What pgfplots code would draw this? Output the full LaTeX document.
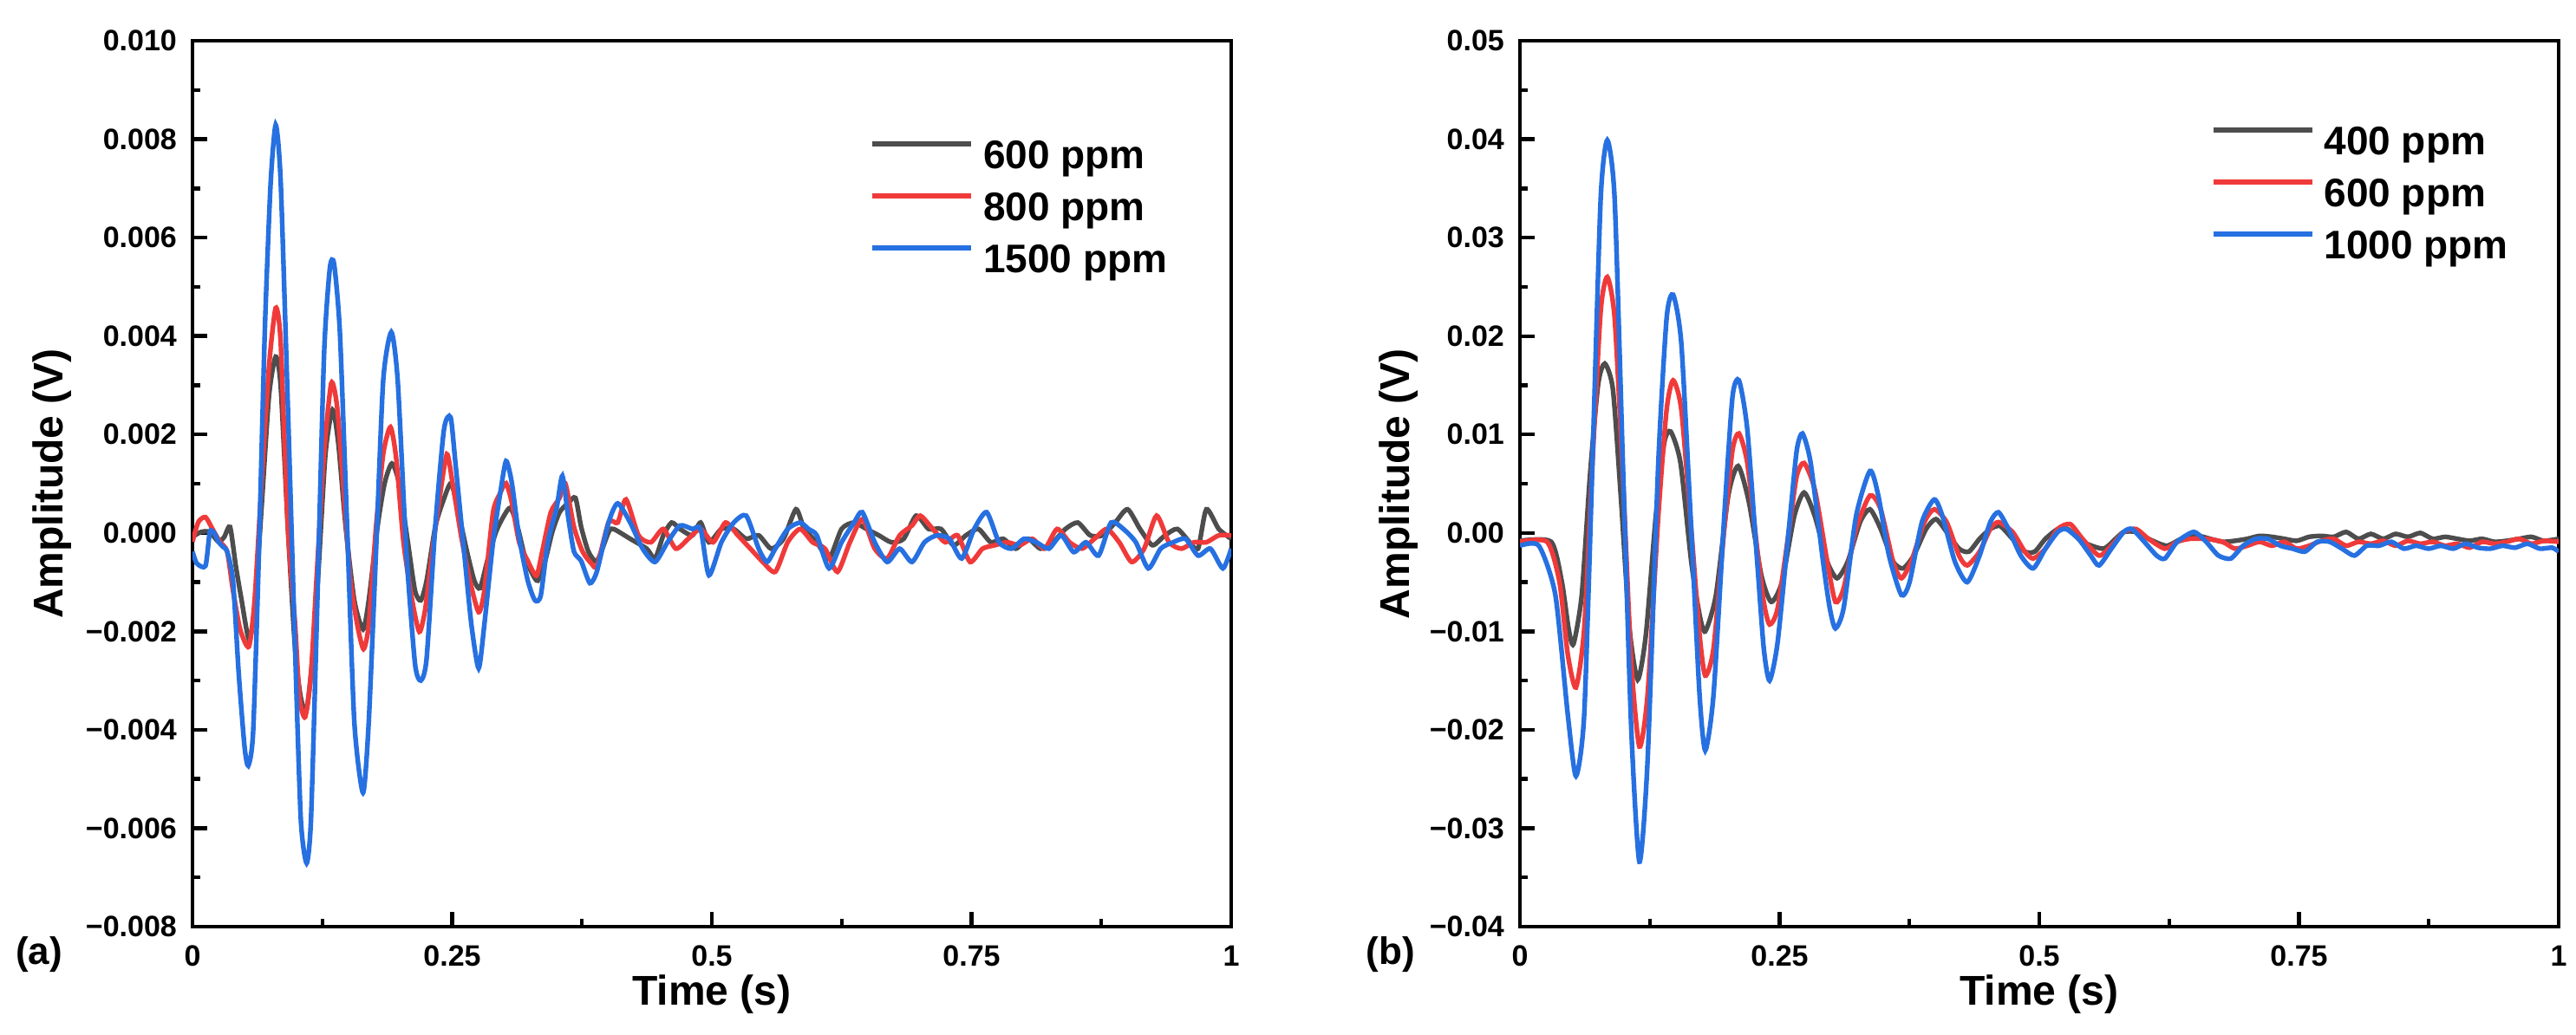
\documentclass[border=0pt]{standalone}
\usepackage{pgfplots}
\pgfplotsset{compat=1.18}
\usepackage{fontspec}
\setmainfont{Liberation Sans}

\definecolor{sgray}{RGB}{77,77,77}
\definecolor{sred}{RGB}{240,58,58}
\definecolor{sblue}{RGB}{38,112,225}

\pgfplotsset{
  sig/.style={
    scale only axis, width=299.5pt, height=255.5pt,
    xmin=0, xmax=1,
    xtick={0,0.25,0.5,0.75,1}, xticklabels={0,0.25,0.5,0.75,1},
    minor x tick num=1, minor y tick num=1,
    tick align=inside, xtick pos=left, ytick pos=left,
    major tick length=4.2pt, minor tick length=2.3pt,
    axis line style={line width=1.1pt},
    every tick/.append style={black, line width=1.1pt},
    tick label style={font=\bfseries\fontsize{8.5}{10}\selectfont},
    xticklabel style={yshift=-2pt}, yticklabel style={xshift=-1pt},
    scaled ticks=false,
    xlabel={Time (s)}, ylabel={Amplitude (V)},
    label style={font=\bfseries\fontsize{12}{14}\selectfont},
    xlabel style={at={(axis description cs:0.5,-0.0763)}, anchor=center},
    legend cell align=left,
    legend style={draw=none, fill=none, anchor=north west, inner sep=0pt,
      row sep=4pt, font=\bfseries\fontsize{11.5}{13}\selectfont,
      nodes={inner sep=0pt, text height=8.5pt, text depth=2.5pt}},
    legend image code/.code={\draw[#1] (0pt,4.1pt) -- (28.5pt,4.1pt); \path (31.25pt,0pt);},
    every axis plot/.append style={line width=1.35pt, smooth, tension=0.4, no markers},
  }
}

\begin{document}
\begin{tikzpicture}
\useasboundingbox (0,0) rectangle (742.75pt,298.25pt);

% ---------------- panel (a)
\begin{axis}[sig, at={(55.5pt,31pt)}, anchor=south west,
  ymin=-0.008, ymax=0.010,
  ytick={-0.008,-0.006,-0.004,-0.002,0,0.002,0.004,0.006,0.008,0.010},
  yticklabels={−0.008,−0.006,−0.004,−0.002,0.000,0.002,0.004,0.006,0.008,0.010},
  ylabel style={at={(axis description cs:-0.1352,0.5)}, anchor=center},
  legend style={at={(0.6519,0.8899)}}]

\addplot[sgray] coordinates {
(0,-0.00008)(0.0083,0.00002)(0.0167,0.00002)(0.0250,-0.00018)(0.0306,-0.00008)(0.0362,0.00012)
(0.0417,-0.00067)(0.0473,-0.00137)(0.0543,-0.00216)(0.0598,-0.00156)(0.0668,0.00061)(0.0737,0.00279)
(0.0801,0.00358)(0.0849,0.00299)(0.0918,0.00012)(0.0988,-0.00236)(0.1043,-0.00335)(0.1099,-0.00359)
(0.1155,-0.00255)(0.1210,-0.00087)(0.1280,0.00160)(0.1349,0.00250)(0.1405,0.00180)(0.1475,0.00012)
(0.1558,-0.00137)(0.1642,-0.00196)(0.1697,-0.00137)(0.1781,0.00012)(0.1850,0.00101)(0.1920,0.00141)
(0.1989,0.00101)(0.2073,-0.00018)(0.2142,-0.00117)(0.2198,-0.00137)(0.2254,-0.00097)(0.2337,0.00012)
(0.2407,0.00061)(0.2490,0.00101)(0.2560,0.00042)(0.2643,-0.00038)(0.2713,-0.00097)(0.2769,-0.00112)
(0.2838,-0.00057)(0.2922,0.00002)(0.2991,0.00032)(0.3061,0.00051)(0.3130,0.00012)(0.3200,-0.00048)
(0.3269,-0.00082)(0.3325,-0.00097)(0.3395,-0.00057)(0.3464,0.00002)(0.3534,0.00042)(0.3617,0.00061)
(0.3687,0.00071)(0.3742,0.00012)(0.3812,-0.00038)(0.3895,-0.00057)(0.4007,0.00002)
(0.4054,0.00008)(0.4214,-0.00012)(0.4373,-0.00032)(0.4453,-0.00052)(0.4533,-0.00005)(0.4613,0.00021)
(0.4693,0.00008)(0.4812,-0.00005)(0.4892,0.00021)(0.4972,-0.00019)(0.5092,0.00008)(0.5211,0.00008)
(0.5331,-0.00012)(0.5451,-0.00005)(0.5571,-0.00032)(0.5690,-0.00012)(0.5810,0.00048)(0.5890,0.00008)
(0.6010,-0.00019)(0.6129,-0.00052)(0.6249,0.00008)(0.6369,0.00021)(0.6488,0.00008)(0.6608,-0.00005)
(0.6728,-0.00019)(0.6847,-0.00012)(0.6967,0.00035)(0.7087,0.00008)(0.7207,0.00008)(0.7326,-0.00025)
(0.7446,-0.00005)(0.7566,0.00008)(0.7686,-0.00019)(0.7805,-0.00012)(0.7925,-0.00032)(0.8045,-0.00012)
(0.8164,-0.00032)(0.8284,-0.00019)(0.8404,0.00008)(0.8523,0.00021)(0.8643,-0.00005)(0.8763,-0.00005)
(0.8883,0.00021)(0.9002,0.00048)(0.9122,0.00008)(0.9242,-0.00025)(0.9362,-0.00005)(0.9481,0.00008)
(0.9601,-0.00019)(0.9681,-0.00032)(0.9761,0.00048)(0.9880,0.00008)(1.0,-0.00012)
};
\addlegendentry{600 ppm}

\addplot[sred] coordinates {
(0,-0.00018)(0.0056,0.00022)(0.0125,0.00032)(0.0195,0.00007)(0.0264,-0.00018)(0.0334,-0.00038)
(0.0390,-0.00117)(0.0459,-0.00196)(0.0543,-0.00231)(0.0598,-0.00137)(0.0668,0.00111)(0.0737,0.00339)
(0.0801,0.00457)(0.0849,0.00388)(0.0918,0.00012)(0.0988,-0.00186)(0.1030,-0.00335)(0.1085,-0.00374)
(0.1141,-0.00285)(0.1196,-0.00087)(0.1266,0.00160)(0.1336,0.00304)(0.1391,0.00259)(0.1447,0.00111)
(0.1516,-0.00087)(0.1586,-0.00186)(0.1647,-0.00236)(0.1697,-0.00186)(0.1767,0.00012)(0.1836,0.00160)
(0.1906,0.00215)(0.1962,0.00150)(0.2031,-0.00018)(0.2115,-0.00137)(0.2184,-0.00201)(0.2240,-0.00156)
(0.2309,-0.00038)(0.2379,0.00071)(0.2449,0.00160)(0.2504,0.00101)(0.2588,-0.00008)(0.2671,-0.00097)
(0.2755,-0.00161)(0.2810,-0.00117)(0.2894,0.00042)(0.2963,0.00081)(0.3019,0.00101)(0.3075,0.00061)
(0.3144,-0.00018)(0.3228,-0.00057)(0.3311,-0.00087)(0.3367,-0.00038)(0.3450,0.00042)(0.3534,0.00071)
(0.3589,0.00101)(0.3673,0.00012)(0.3756,-0.00038)(0.3840,-0.00062)(0.3895,-0.00067)(0.4007,0.00022)
(0.4094,0.00021)(0.4174,0.00068)(0.4294,-0.00005)(0.4413,-0.00019)(0.4533,0.00008)(0.4653,-0.00032)
(0.4773,-0.00012)(0.4892,0.00008)(0.5012,-0.00019)(0.5132,0.00021)(0.5251,-0.00005)(0.5371,-0.00032)
(0.5491,-0.00059)(0.5611,-0.00079)(0.5730,-0.00019)(0.5850,0.00008)(0.5970,-0.00019)(0.6089,-0.00032)
(0.6209,-0.00079)(0.6329,-0.00019)(0.6449,0.00028)(0.6568,-0.00032)(0.6688,-0.00052)(0.6808,-0.00005)
(0.6927,0.00015)(0.7007,0.00035)(0.7127,0.00008)(0.7247,-0.00019)(0.7366,-0.00005)(0.7486,-0.00059)
(0.7606,-0.00032)(0.7725,-0.00025)(0.7845,-0.00019)(0.7965,-0.00025)(0.8085,-0.00012)(0.8204,-0.00032)
(0.8324,0.00008)(0.8444,-0.00019)(0.8563,-0.00032)(0.8683,-0.00012)(0.8803,0.00008)(0.8922,-0.00019)
(0.9042,-0.00059)(0.9162,-0.00032)(0.9282,0.00035)(0.9401,-0.00019)(0.9521,-0.00032)(0.9641,-0.00019)
(0.9761,-0.00019)(0.9880,-0.00005)(1.0,-0.00005)
};
\addlegendentry{800 ppm}

\addplot[sblue] coordinates {
(0,-0.00038)(0.0042,-0.00062)(0.0125,-0.00067)(0.0167,0.00002)(0.0209,0)(0.0250,-0.00018)
(0.0292,-0.00028)(0.0334,-0.00038)(0.0390,-0.00097)(0.0445,-0.00285)(0.0501,-0.00434)(0.0537,-0.00473)
(0.0584,-0.00404)(0.0640,-0.00038)(0.0696,0.00408)(0.0751,0.00705)(0.0801,0.00829)(0.0849,0.00715)
(0.0918,0.00259)(0.0988,-0.00236)(0.1043,-0.00582)(0.1099,-0.00671)(0.1141,-0.00582)(0.1196,-0.00186)
(0.1266,0.00358)(0.1322,0.00537)(0.1363,0.00547)(0.1419,0.00408)(0.1489,0.00012)(0.1558,-0.00384)
(0.1642,-0.00528)(0.1697,-0.00384)(0.1767,-0.00038)(0.1836,0.00309)(0.1914,0.00408)(0.1976,0.00309)
(0.2059,-0.00038)(0.2142,-0.00265)(0.2198,-0.00300)(0.2254,-0.00255)(0.2337,0.00012)(0.2421,0.00210)
(0.2485,0.00235)(0.2532,0.00141)(0.2615,-0.00038)(0.2685,-0.00186)(0.2755,-0.00275)(0.2810,-0.00186)
(0.2894,-0.00018)(0.2963,0.00081)(0.3019,0.00146)(0.3075,0.00101)(0.3144,-0.00008)(0.3228,-0.00097)
(0.3297,-0.00137)(0.3353,-0.00127)(0.3422,-0.00018)(0.3506,0.00051)(0.3561,0.00116)(0.3617,0.00032)
(0.3673,-0.00038)(0.3742,-0.00057)(0.3826,-0.00102)(0.3895,-0.00077)(0.4007,0.00022)
(0.4094,0.00060)(0.4214,0.00021)(0.4334,-0.00032)(0.4453,-0.00059)(0.4573,-0.00019)(0.4693,0.00015)
(0.4812,0.00008)(0.4892,0.00008)(0.4972,-0.00086)(0.5092,-0.00019)(0.5211,0.00021)(0.5331,0.00035)
(0.5451,-0.00032)(0.5531,-0.00059)(0.5611,-0.00032)(0.5730,0.00008)(0.5850,0.00021)(0.5930,0.00008)
(0.6010,-0.00005)(0.6129,-0.00072)(0.6249,-0.00019)(0.6369,0.00021)(0.6449,0.00042)(0.6568,-0.00019)
(0.6688,-0.00059)(0.6808,-0.00032)(0.6927,-0.00059)(0.7047,-0.00019)(0.7167,-0.00005)(0.7287,-0.00012)
(0.7406,-0.00052)(0.7526,0.00008)(0.7646,0.00042)(0.7765,-0.00019)(0.7885,-0.00032)(0.8005,-0.00012)
(0.8124,-0.00019)(0.8244,-0.00032)(0.8364,-0.00005)(0.8484,-0.00039)(0.8603,-0.00019)(0.8723,-0.00046)
(0.8843,0.00021)(0.8962,0.00008)(0.9082,-0.00019)(0.9202,-0.00072)(0.9321,-0.00032)(0.9441,-0.00019)
(0.9561,-0.00012)(0.9681,-0.00046)(0.9800,-0.00032)(0.9920,-0.00072)(1.0,-0.00032)
};
\addlegendentry{1500 ppm}
\end{axis}

% ---------------- panel (b)
\begin{axis}[sig, at={(438.25pt,31pt)}, anchor=south west,
  ymin=-0.04, ymax=0.05,
  ytick={-0.04,-0.03,-0.02,-0.01,0,0.01,0.02,0.03,0.04,0.05},
  yticklabels={−0.04,−0.03,−0.02,−0.01,0.00,0.01,0.02,0.03,0.04,0.05},
  ylabel style={at={(axis description cs:-0.1168,0.5)}, anchor=center},
  legend style={at={(0.6647,0.9056)}}]

\addplot[sgray] coordinates {
(0,-0.0008)(0.0301,-0.0009)(0.0404,-0.0050)(0.0468,-0.0097)(0.0515,-0.0113)(0.0595,-0.0063)
(0.0674,0.0058)(0.0753,0.0151)(0.0817,0.0172)(0.0896,0.0145)(0.0975,0.0031)(0.1055,-0.0097)
(0.1134,-0.0149)(0.1213,-0.0103)(0.1308,0.0017)(0.1388,0.0091)(0.1451,0.0103)(0.1546,0.0071)
(0.1649,-0.0029)(0.1729,-0.0083)(0.1784,-0.0100)(0.1887,-0.0063)(0.2006,0.0038)(0.2101,0.0068)
(0.2205,0.0031)(0.2324,-0.0043)(0.2419,-0.0070)(0.2522,-0.0050)(0.2641,0.0017)(0.2736,0.0041)
(0.2839,0.0017)(0.2958,-0.0029)(0.3053,-0.0046)(0.3156,-0.0029)(0.3275,0.0011)(0.3370,0.0024)
(0.3473,0.0004)(0.3592,-0.0029)(0.3688,-0.0036)(0.3791,-0.0023)(0.3910,0.0004)(0.4005,0.0014)
(0.4108,0.0001)(0.4227,-0.0016)(0.4322,-0.0019)(0.4425,-0.0006)(0.4528,0.0004)(0.4623,0.0007)
(0.4742,-0.0006)(0.4861,-0.0019)(0.4956,-0.0019)(0.5059,-0.0006)(0.5178,0.0004)(0.5274,0.0004)
(0.5416,-0.0009)(0.5615,-0.0016)(0.5734,-0.0006)(0.5813,0.0001)(0.5932,0.0001)(0.6051,-0.0006)
(0.6225,-0.0013)(0.6368,-0.0006)(0.6527,-0.0003)(0.6645,-0.0006)(0.6764,-0.0009)(0.6883,-0.0008)
(0.7002,-0.0006)(0.7121,-0.0003)(0.7240,-0.0004)(0.7359,-0.0006)(0.7478,-0.0008)(0.7597,-0.0004)
(0.7716,-0.0003)(0.7835,-0.0004)(0.7954,0.0001)(0.8073,-0.0006)(0.8192,-0.0001)(0.8311,-0.0006)
(0.8430,-0.0001)(0.8549,-0.0004)(0.8668,0.0000)(0.8787,-0.0006)(0.8906,-0.0004)(0.9025,-0.0006)
(0.9143,-0.0008)(0.9262,-0.0006)(0.9381,-0.0009)(0.9500,-0.0008)(0.9619,-0.0006)(0.9738,-0.0004)
(0.9857,-0.0008)(1.0,-0.0006)
};
\addlegendentry{400 ppm}

\addplot[sred] coordinates {
(0,-0.0009)(0.0262,-0.0009)(0.0381,-0.0050)(0.0460,-0.0123)(0.0539,-0.0157)(0.0619,-0.0097)
(0.0698,0.0071)(0.0777,0.0225)(0.0841,0.0260)(0.0912,0.0218)(0.0991,0.0058)(0.1071,-0.0130)
(0.1150,-0.0217)(0.1229,-0.0164)(0.1332,0.0017)(0.1412,0.0125)(0.1475,0.0155)(0.1554,0.0125)
(0.1649,0.0004)(0.1729,-0.0103)(0.1784,-0.0145)(0.1864,-0.0117)(0.1967,0.0004)(0.2046,0.0084)
(0.2109,0.0101)(0.2189,0.0071)(0.2284,-0.0016)(0.2347,-0.0070)(0.2403,-0.0093)(0.2482,-0.0076)
(0.2601,0.0011)(0.2665,0.0058)(0.2736,0.0071)(0.2839,0.0044)(0.2958,-0.0029)(0.3037,-0.0070)
(0.3117,-0.0056)(0.3236,0.0004)(0.3370,0.0038)(0.3473,0.0024)(0.3592,-0.0029)(0.3672,-0.0046)
(0.3767,-0.0029)(0.3894,0.0011)(0.3989,0.0024)(0.4108,0.0011)(0.4227,-0.0023)(0.4306,-0.0033)
(0.4425,-0.0019)(0.4528,0.0004)(0.4607,0.0011)(0.4742,0.0001)(0.4861,-0.0019)(0.4941,-0.0026)
(0.5059,-0.0016)(0.5178,0.0004)(0.5297,0.0009)(0.5416,-0.0006)(0.5575,-0.0023)(0.5694,-0.0013)
(0.5813,0.0001)(0.5932,0.0004)(0.6051,-0.0006)(0.6209,-0.0016)(0.6328,-0.0009)(0.6447,-0.0006)
(0.6606,-0.0006)(0.6764,-0.0009)(0.6883,-0.0016)(0.7002,-0.0013)(0.7121,-0.0009)(0.7240,-0.0013)
(0.7359,-0.0009)(0.7478,-0.0016)(0.7597,-0.0013)(0.7716,-0.0008)(0.7835,-0.0006)(0.7954,-0.0013)
(0.8073,-0.0009)(0.8192,-0.0011)(0.8311,-0.0008)(0.8430,-0.0013)(0.8549,-0.0008)(0.8668,-0.0011)
(0.8787,-0.0009)(0.8906,-0.0013)(0.9025,-0.0011)(0.9143,-0.0015)(0.9262,-0.0009)(0.9381,-0.0011)
(0.9500,-0.0009)(0.9619,-0.0006)(0.9738,-0.0011)(0.9857,-0.0008)(1.0,-0.0009)
};
\addlegendentry{600 ppm}

\addplot[sblue] coordinates {
(0,-0.0013)(0.0182,-0.0013)(0.0341,-0.0063)(0.0460,-0.0184)(0.0539,-0.0247)(0.0619,-0.0184)
(0.0698,0.0071)(0.0777,0.0339)(0.0841,0.0399)(0.0912,0.0339)(0.0991,0.0071)(0.1071,-0.0197)
(0.1150,-0.0334)(0.1229,-0.0231)(0.1332,0.0071)(0.1412,0.0218)(0.1475,0.0242)(0.1554,0.0192)
(0.1649,0.0004)(0.1729,-0.0164)(0.1784,-0.0221)(0.1864,-0.0164)(0.1967,0.0017)(0.2046,0.0138)
(0.2109,0.0155)(0.2189,0.0105)(0.2284,-0.0029)(0.2347,-0.0117)(0.2403,-0.0150)(0.2482,-0.0110)
(0.2601,0.0017)(0.2665,0.0084)(0.2720,0.0101)(0.2799,0.0071)(0.2918,-0.0029)(0.2982,-0.0076)
(0.3037,-0.0097)(0.3117,-0.0076)(0.3236,0.0017)(0.3370,0.0063)(0.3450,0.0038)(0.3553,-0.0023)
(0.3672,-0.0063)(0.3751,-0.0050)(0.3870,0.0011)(0.3989,0.0034)(0.4068,0.0017)(0.4187,-0.0029)
(0.4306,-0.0050)(0.4425,-0.0023)(0.4528,0.0011)(0.4607,0.0021)(0.4703,0.0004)(0.4822,-0.0023)
(0.4941,-0.0036)(0.5059,-0.0016)(0.5178,0.0001)(0.5258,0.0004)(0.5377,-0.0006)(0.5496,-0.0023)
(0.5575,-0.0033)(0.5694,-0.0016)(0.5813,0.0001)(0.5892,0.0004)(0.6011,-0.0009)(0.6130,-0.0023)
(0.6209,-0.0026)(0.6328,-0.0009)(0.6487,0.0001)(0.6606,-0.0009)(0.6725,-0.0023)(0.6844,-0.0026)
(0.6963,-0.0013)(0.7082,-0.0006)(0.7201,-0.0006)(0.7320,-0.0013)(0.7439,-0.0016)(0.7557,-0.0019)
(0.7676,-0.0009)(0.7795,-0.0009)(0.7914,-0.0016)(0.8033,-0.0023)(0.8152,-0.0013)(0.8271,-0.0013)
(0.8390,-0.0009)(0.8509,-0.0016)(0.8628,-0.0013)(0.8747,-0.0016)(0.8866,-0.0013)(0.8985,-0.0016)
(0.9104,-0.0011)(0.9223,-0.0015)(0.9342,-0.0016)(0.9461,-0.0013)(0.9580,-0.0015)(0.9699,-0.0011)
(0.9818,-0.0016)(0.9937,-0.0015)(1.0,-0.0019)
};
\addlegendentry{1000 ppm}
\end{axis}

\node[font=\bfseries\fontsize{11}{13}\selectfont] at (11.25pt,23pt) {(a)};
\node[font=\bfseries\fontsize{11}{13}\selectfont] at (401pt,23pt) {(b)};
\end{tikzpicture}
\end{document}
